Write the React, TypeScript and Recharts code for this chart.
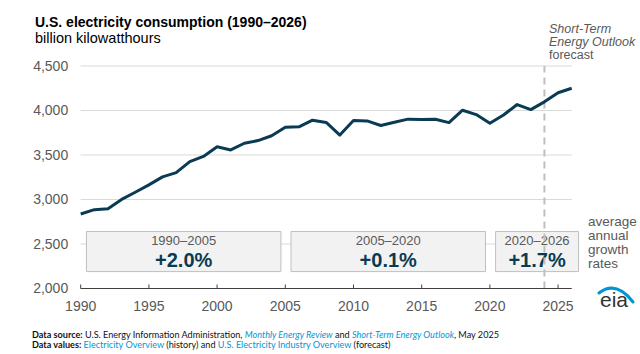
import { CartesianGrid, Line, LineChart, ReferenceArea, ReferenceLine, XAxis, YAxis } from 'recharts'

const years = [
  1990, 1991, 1992, 1993, 1994, 1995, 1996, 1997, 1998, 1999, 2000, 2001, 2002, 2003, 2004, 2005, 2006, 2007, 2008,
  2009, 2010, 2011, 2012, 2013, 2014, 2015, 2016, 2017, 2018, 2019, 2020, 2021, 2022, 2023, 2024, 2025, 2026,
]
const consumption = [
  2837, 2886, 2897, 3001, 3081, 3164, 3254, 3302, 3425, 3484, 3592, 3557, 3632, 3662, 3716, 3811, 3817, 3891, 3866,
  3724, 3887, 3883, 3832, 3868, 3903, 3900, 3902, 3864, 4003, 3954, 3856, 3950, 4067, 4010, 4097, 4200, 4250,
]
const xTicks = [1990, 1995, 2000, 2005, 2010, 2015, 2020, 2025]
const yTicks = [2000, 2500, 3000, 3500, 4000, 4500]
const forecastStart = 2024

const periodLabels = ['1990–2005', '2005–2020', '2020–2026']
const growthRates = ['+2.0%', '+0.1%', '+1.7%']
const periodStarts = [1990, 2005, 2020]
const periodEnds = [2005, 2020, 2026]

const data = years.map((year, i) => ({ year, value: consumption[i] }))

const FONT = '"Liberation Sans", Arial, sans-serif'
const NAVY = '#0a3b53'
const GRAY_TEXT = '#595959'
const LINK = '#0096d6'

type LabelProps = {
  viewBox?: { x: number; y: number; width: number; height: number }
  period: string
  rate: string
}

function GrowthLabel({ viewBox, period, rate }: LabelProps) {
  if (!viewBox) return null
  const cx = viewBox.x + viewBox.width / 2
  return (
    <g fontFamily={FONT}>
      <text x={cx} y={viewBox.y + 13} textAnchor='middle' fontSize={13} fill={GRAY_TEXT}>
        {period}
      </text>
      <text x={cx} y={viewBox.y + 35} textAnchor='middle' fontSize={20} fontWeight='bold' fill={NAVY}>
        {rate}
      </text>
    </g>
  )
}

function EiaLogo() {
  return (
    <svg width={44} height={30} style={{ position: 'absolute', left: 596, top: 282 }}>
      <path d='M3 11 Q 20 -2 37 20' fill='none' stroke={LINK} strokeWidth={3} strokeLinecap='round' />
      <text x={4} y={25} fontFamily={FONT} fontSize={21} fill='#333'>
        eia
      </text>
    </svg>
  )
}

export default function App() {
  return (
    <div style={{ position: 'absolute', left: 0, top: 0, width: 640, height: 354, background: '#fff', fontFamily: FONT }}>
      <div style={{ position: 'absolute', left: 35, top: 15, fontSize: 14, lineHeight: '14px', fontWeight: 'bold', color: '#000', whiteSpace: 'nowrap' }}>
        U.S. electricity consumption (1990–2026)
      </div>
      <div style={{ position: 'absolute', left: 35, top: 30.5, fontSize: 14.5, lineHeight: '14.5px', color: '#000', whiteSpace: 'nowrap' }}>
        billion kilowatthours
      </div>

      <LineChart
        width={640}
        height={354}
        data={data}
        margin={{ top: 66, right: 68.3, bottom: 35.5, left: 20.7 }}
        style={{ position: 'absolute', left: 0, top: 0 }}
      >
        <CartesianGrid vertical={false} stroke='#d9d9d9' />
        <XAxis
          dataKey='year'
          type='number'
          domain={[1990, 2026]}
          ticks={xTicks}
          height={30}
          axisLine={{ stroke: '#404040', strokeWidth: 1 }}
          tickLine={{ stroke: '#404040' }}
          tickSize={-4}
          tickMargin={17}
          tick={{ fill: GRAY_TEXT, fontSize: 14, fontFamily: FONT }}
        />
        <YAxis
          type='number'
          domain={[2000, 4500]}
          ticks={yTicks}
          width={60}
          axisLine={false}
          tickLine={false}
          tickSize={0}
          tickMargin={12.5}
          tickFormatter={(v: number) => v.toLocaleString('en-US')}
          tick={{ fill: GRAY_TEXT, fontSize: 14, fontFamily: FONT }}
        />
        {periodLabels.map((period, i) => (
          <ReferenceArea
            key={period}
            x1={periodStarts[i] + 0.42}
            x2={i === periodLabels.length - 1 ? periodEnds[i] + 0.5 : periodEnds[i] - 0.32}
            y1={2190}
            y2={2640}
            fill='#f2f2f2'
            fillOpacity={1}
            stroke='#bfbfbf'
            strokeWidth={1}
            ifOverflow='visible'
            label={<GrowthLabel period={period} rate={growthRates[i]} />}
          />
        ))}
        <ReferenceLine x={forecastStart} stroke='#bfbfbf' strokeWidth={2} strokeDasharray='7 5' />
        <Line
          type='linear'
          dataKey='value'
          stroke={NAVY}
          strokeWidth={3}
          strokeLinejoin='round'
          dot={false}
          activeDot={false}
          isAnimationActive={false}
        />
      </LineChart>

      <div style={{ position: 'absolute', left: 549, top: 22.5, fontSize: 12.5, lineHeight: '13px', color: GRAY_TEXT, whiteSpace: 'nowrap' }}>
        <i>Short-Term</i>
        <br />
        <i>Energy Outlook</i>
        <br />
        forecast
      </div>
      <div style={{ position: 'absolute', left: 588, top: 215, fontSize: 13.5, lineHeight: '14px', color: GRAY_TEXT }}>
        average
        <br />
        annual
        <br />
        growth
        <br />
        rates
      </div>

      <EiaLogo />

      <div style={{ position: 'absolute', left: 32, top: 330, fontFamily: 'Lato, sans-serif', fontSize: 9.1, lineHeight: '10px', color: '#111', whiteSpace: 'nowrap' }}>
        <div>
          <b>Data source:</b> U.S. Energy Information Administration, <i style={{ color: LINK }}>Monthly Energy Review</i> and{' '}
          <i style={{ color: LINK }}>Short-Term Energy Outlook</i>, May 2025
        </div>
        <div>
          <b>Data values:</b> <span style={{ color: LINK }}>Electricity Overview</span> (history) and{' '}
          <span style={{ color: LINK }}>U.S. Electricity Industry Overview</span> (forecast)
        </div>
      </div>
    </div>
  )
}
